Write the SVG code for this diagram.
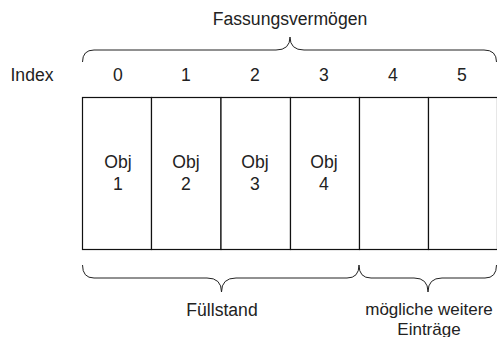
<svg xmlns="http://www.w3.org/2000/svg" width="497" height="337" viewBox="0 0 497 337">
  <style>
    text { font-family: "Liberation Sans", Arial, sans-serif; font-size: 17.6px; fill: #222; text-anchor: middle; }
    .note { font-size: 17px; }
    .cell { fill: #fff; stroke: #111; stroke-width: 1.2; }
    .brace { fill: none; stroke: #222; stroke-width: 1; }
  </style>
  <rect width="497" height="337" fill="#fff"/>

  <!-- capacity label -->
  <g id="capacity">
    <text x="290" y="25">Fassungsvermögen</text>
  </g>

  <!-- index row -->
  <g id="index-row">
    <text x="32" y="81">Index</text>
    <text x="118" y="81">0</text>
    <text x="186" y="81">1</text>
    <text x="255" y="81">2</text>
    <text x="324" y="81">3</text>
    <text x="393" y="81">4</text>
    <text x="462" y="81">5</text>
  </g>

  <!-- array cells -->
  <g id="cell0"><rect class="cell" x="82.5" y="97.5" width="69" height="152"/><text x="118" y="168">Obj</text><text x="118" y="190">1</text></g>
  <g id="cell1"><rect class="cell" x="151.5" y="97.5" width="69.5" height="152"/><text x="186" y="168">Obj</text><text x="186" y="190">2</text></g>
  <g id="cell2"><rect class="cell" x="221" y="97.5" width="69.5" height="152"/><text x="255" y="168">Obj</text><text x="255" y="190">3</text></g>
  <g id="cell3"><rect class="cell" x="290.5" y="97.5" width="69" height="152"/><text x="324" y="168">Obj</text><text x="324" y="190">4</text></g>
  <g id="cell4"><rect class="cell" x="359.5" y="97.5" width="69" height="152"/></g>
  <g id="cell5"><rect class="cell" x="428.5" y="97.5" width="69" height="152"/></g>

  <!-- braces -->
  <g id="connectors">
    <path class="brace" d="M82.5,62 Q82.5,50 94,50 L276,50 Q290,50 290,37 Q290,50 304,50 L484,50 Q496.5,50 496.5,62"/>
    <path class="brace" d="M82.5,265 Q82.5,278 94,278 L207,278 Q221.5,278 221.5,292 Q221.5,278 236,278 L347,278 Q359,278 359,265"/>
    <path class="brace" d="M359,265 Q359,278 371,278 L414,278 Q428,278 428,292 Q428,278 442,278 L485,278 Q496.5,278 496.5,265"/>
  </g>

  <g id="fill-level"><text x="222" y="316">Füllstand</text></g>
  <g id="free-slots"><text class="note" x="429" y="315">mögliche weitere</text><text class="note" x="429" y="334.5">Einträge</text></g>
</svg>
